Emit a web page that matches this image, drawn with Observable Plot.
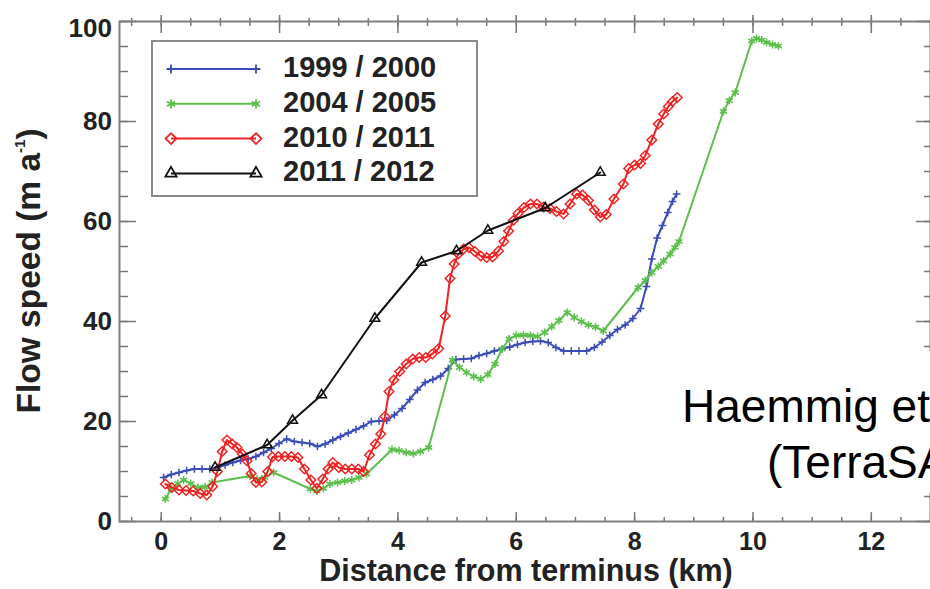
<!DOCTYPE html>
<html><head><meta charset="utf-8">
<script src="https://cdn.jsdelivr.net/npm/d3@7"></script>
<script src="https://cdn.jsdelivr.net/npm/@observablehq/plot@0.6"></script>
<style>
html,body{margin:0;padding:0;background:#fff;overflow:hidden}
#chart{position:relative;width:930px;height:589px;overflow:hidden}
</style></head><body><div id="chart"></div>
<script>
// ---- data ----
const seriesNames = ["1999 / 2000", "2004 / 2005", "2010 / 2011", "2011 / 2012"];
const seriesColors = ["#3a4cb8", "#5cbf4c", "#ee2222", "#111111"];
const seriesSymbols = ["plus", "asterisk", "diamond2", "triangle2"];

const km1999 = [0.04,0.17,0.30,0.43,0.56,0.69,0.82,0.95,1.08,1.21,1.34,1.47,1.60,1.73,1.86,1.99,2.12,2.25,2.38,2.51,2.64,2.77,2.90,3.03,3.16,3.29,3.42,3.55,3.68,3.81,3.94,4.07,4.20,4.33,4.46,4.59,4.72,4.85,4.98,5.11,5.24,5.37,5.50,5.63,5.76,5.89,6.02,6.15,6.28,6.41,6.54,6.67,6.80,6.93,7.06,7.19,7.32,7.45,7.58,7.71,7.84,7.97,8.10,8.20,8.29,8.38,8.47,8.56,8.64,8.71];
const v1999 = [8.8,9.4,9.8,10.2,10.5,10.5,10.5,10.8,11.3,11.8,12.2,12.5,13.0,13.8,14.6,15.6,16.5,16.0,15.8,15.6,15.0,15.5,16.3,17.0,17.7,18.4,19.1,20.0,20.1,20.2,21.3,22.6,24.4,26.3,27.8,28.4,29.1,30.6,32.4,32.5,32.6,33.2,33.6,34.1,34.5,34.9,35.4,35.8,36.0,36.1,35.8,34.8,34.1,34.1,34.1,34.1,34.8,35.9,37.2,38.4,39.3,40.6,42.6,47.0,52.5,56.7,59.2,61.8,64.0,65.5];

const km2004 = [0.07,0.17,0.28,0.38,0.50,0.62,0.74,0.86,1.50,1.62,1.75,1.90,2.52,2.63,2.74,2.85,2.98,3.10,3.22,3.34,3.47,3.90,4.02,4.14,4.26,4.38,4.52,4.92,5.04,5.16,5.28,5.40,5.52,5.64,5.76,5.88,6.00,6.12,6.24,6.36,6.48,6.60,6.72,6.86,6.98,7.10,7.22,7.34,7.47,8.06,8.18,8.29,8.40,8.49,8.60,8.68,8.75,9.50,9.60,9.70,9.98,10.06,10.15,10.23,10.33,10.43];
const v2004 = [4.5,6.5,7.6,8.3,7.6,6.8,6.9,7.8,9.1,8.5,8.8,9.8,6.5,6.1,6.6,7.5,7.8,8.1,8.3,8.8,9.5,14.4,14.2,13.8,13.6,14.0,14.8,32.3,30.8,29.8,29.0,28.5,29.4,31.5,34.5,36.5,37.2,37.3,37.2,37.0,37.8,39.0,40.2,41.8,40.8,40.0,39.3,38.9,38.1,46.8,48.2,49.8,51.0,52.1,53.5,54.8,56.0,82.0,84.2,85.8,96.1,96.6,96.3,95.8,95.4,95.1];

const km2010 = [0.07,0.18,0.30,0.42,0.54,0.66,0.77,0.87,0.95,1.03,1.11,1.20,1.28,1.37,1.45,1.52,1.60,1.70,1.80,1.88,1.98,2.09,2.20,2.31,2.42,2.53,2.63,2.73,2.82,2.90,3.00,3.11,3.22,3.33,3.42,3.52,3.62,3.71,3.78,3.85,3.93,4.03,4.14,4.25,4.36,4.47,4.58,4.69,4.80,4.88,4.95,5.02,5.11,5.20,5.30,5.40,5.50,5.60,5.70,5.79,5.87,5.95,6.03,6.13,6.24,6.35,6.46,6.57,6.68,6.80,6.91,7.02,7.12,7.22,7.32,7.42,7.52,7.65,7.81,7.90,8.00,8.10,8.18,8.29,8.40,8.49,8.57,8.64,8.72];
const v2010 = [7.5,6.8,6.3,6.2,6.1,5.6,5.3,7.0,10.0,14.0,16.3,15.5,14.8,13.5,12.1,9.6,7.8,7.9,10.0,12.9,13.0,13.0,13.0,12.8,10.5,8.3,6.6,8.5,10.5,11.8,10.8,10.5,10.5,10.5,10.0,13.3,15.5,17.5,21.0,26.0,28.3,30.0,31.5,32.5,32.8,32.8,33.5,34.6,41.1,48.6,51.5,53.5,54.5,54.8,54.0,53.1,52.8,52.9,54.1,56.0,58.1,60.2,61.6,62.8,63.5,63.5,62.9,62.6,62.0,61.5,63.5,65.5,65.3,64.2,62.3,60.9,61.4,64.5,67.5,70.6,71.3,71.6,73.2,76.3,79.5,81.5,83.0,84.0,84.8];

const km2011 = [0.91,1.79,2.22,2.71,3.61,4.40,4.99,5.52,6.49,7.42];
const v2011 = [10.8,15.3,20.2,25.3,40.6,51.8,54.1,58.2,62.7,69.8];

const xTickLabels = [0,2,4,6,8,10,12];
const yTickLabels = [0,20,40,60,80];
const yTopLabel = [100];
const xLabel = "Distance from terminus (km)";
const yLabelMain = "Flow speed (m a";
const yLabelSup = "-1";
const noteLines = ["Haemmig et al.", "(TerraSAR-X)"];

// ---- build table ----
const seriesKm = [km1999, km2004, km2010, km2011];
const seriesV = [v1999, v2004, v2010, v2011];
const rows = seriesNames.flatMap((name, s) =>
  seriesKm[s].map((km, i) => ({series: name, km, speed: seriesV[s][i]})));

const xMinor = d3.range(-0.5, 13.01, 0.5);
const yMinor = d3.range(0, 100.1, 5);

const font = "'Liberation Sans', Arial, Helvetica, sans-serif";
const tickStroke = "#777";
const symR = [2.6, 3.8, 4.3, 4.7];

const tickAxis = (fn, data, anchor, size) =>
  fn(data, {anchor, tickSize: size, fill: "none", stroke: tickStroke, strokeWidth: 1.5, label: null, tickFormat: () => ""});

const marks = [
  tickAxis(Plot.axisX, xMinor, "bottom", -4),
  tickAxis(Plot.axisX, xTickLabels, "bottom", -9),
  tickAxis(Plot.axisX, xMinor, "top", -4),
  tickAxis(Plot.axisX, xMinor, "top", 4),
  tickAxis(Plot.axisX, xTickLabels, "top", -11),
  tickAxis(Plot.axisX, xTickLabels, "top", 7),
  tickAxis(Plot.axisY, yMinor, "left", -9),
  tickAxis(Plot.axisY, [...yTickLabels, ...yTopLabel], "left", -17),
  tickAxis(Plot.axisY, yMinor, "right", -7),
  tickAxis(Plot.axisY, [...yTickLabels, ...yTopLabel], "right", -15),
  Plot.axisX(xTickLabels, {anchor: "bottom", tickSize: 0, tickPadding: 11, fontSize: 25, fontWeight: "bold", label: null}),
  Plot.axisY(yTickLabels, {anchor: "left", tickSize: 0, tickPadding: 7.5, fontSize: 26, fontWeight: "bold", label: null}),
  Plot.axisY(yTopLabel, {anchor: "left", tickSize: 0, tickPadding: 7.5, dy: 7, fontSize: 26, fontWeight: "bold", label: null}),
  Plot.frame({stroke: "#7f7f7f", strokeWidth: 2})
];
seriesNames.forEach((name, s) => {
  const d = rows.filter(r => r.series === name);
  marks.push(Plot.line(d, {x: "km", y: "speed", stroke: "series", strokeWidth: 2}));
  marks.push(Plot.dot(d, {x: "km", y: "speed", symbol: seriesSymbols[s], stroke: seriesColors[s], r: symR[s], strokeWidth: 1.5, fill: "none"}));
});

const chart = Plot.plot({
  width: 930, height: 589,
  marginLeft: 119, marginRight: 0, marginTop: 21, marginBottom: 68,
  style: {fontFamily: font, background: "white", color: "#222", overflow: "hidden"},
  x: {domain: [-0.705, 13], label: null},
  y: {domain: [0, 100], label: null},
  color: {domain: seriesNames, range: seriesColors},
  marks
});
document.getElementById("chart").appendChild(chart);

// ---- labels, legend, note (decorations) ----
const svg = d3.select(chart);
svg.append("text")
  .attr("x", 526).attr("y", 581)
  .attr("text-anchor", "middle")
  .attr("font-family", font).attr("font-weight", "bold").attr("font-size", 30.5)
  .attr("fill", "#222").text(xLabel);

const yl = svg.append("text")
  .attr("transform", "translate(40,271) rotate(-90)")
  .attr("text-anchor", "middle")
  .attr("font-family", font).attr("font-weight", "bold").attr("font-size", 33.5)
  .attr("fill", "#222");
yl.append("tspan").text(yLabelMain);
yl.append("tspan").attr("font-size", 15).attr("dy", -15).text(yLabelSup);
yl.append("tspan").attr("dy", 15).text(")");

const lg = svg.append("g");
lg.append("rect").attr("x", 152).attr("y", 41).attr("width", 325).attr("height", 155)
  .attr("fill", "white").attr("stroke", "#8a8a8a").attr("stroke-width", 2);
const d3sym = {plus: d3.symbolPlus, asterisk: d3.symbolAsterisk, diamond2: d3.symbolDiamond2, triangle2: d3.symbolTriangle2};
seriesNames.forEach((name, s) => {
  const y = 69 + s * 34.8;
  lg.append("line").attr("x1", 171).attr("x2", 256).attr("y1", y).attr("y2", y)
    .attr("stroke", seriesColors[s]).attr("stroke-width", 2);
  [171, 256].forEach(x => {
    lg.append("path")
      .attr("d", d3.symbol(d3sym[seriesSymbols[s]], Math.PI * symR[s] * symR[s] * 1.3)())
      .attr("transform", `translate(${x},${y})`)
      .attr("fill", "none").attr("stroke", seriesColors[s]).attr("stroke-width", 1.8);
  });
  lg.append("text").attr("x", 283).attr("y", y + 8)
    .attr("text-anchor", "start")
    .attr("font-family", font).attr("font-weight", "bold").attr("font-size", 29)
    .attr("fill", "#222").text(name);
});

svg.append("rect").attr("x", 668).attr("y", 351).attr("width", 262).attr("height", 142).attr("fill", "white");
svg.append("text").attr("x", 682).attr("y", 422).attr("text-anchor", "start")
  .attr("font-family", font).attr("font-size", 46).attr("fill", "#000").text(noteLines[0]);
svg.append("text").attr("x", 767).attr("y", 478).attr("text-anchor", "start")
  .attr("font-family", font).attr("font-size", 46).attr("fill", "#000").text(noteLines[1]);
</script></body></html>
